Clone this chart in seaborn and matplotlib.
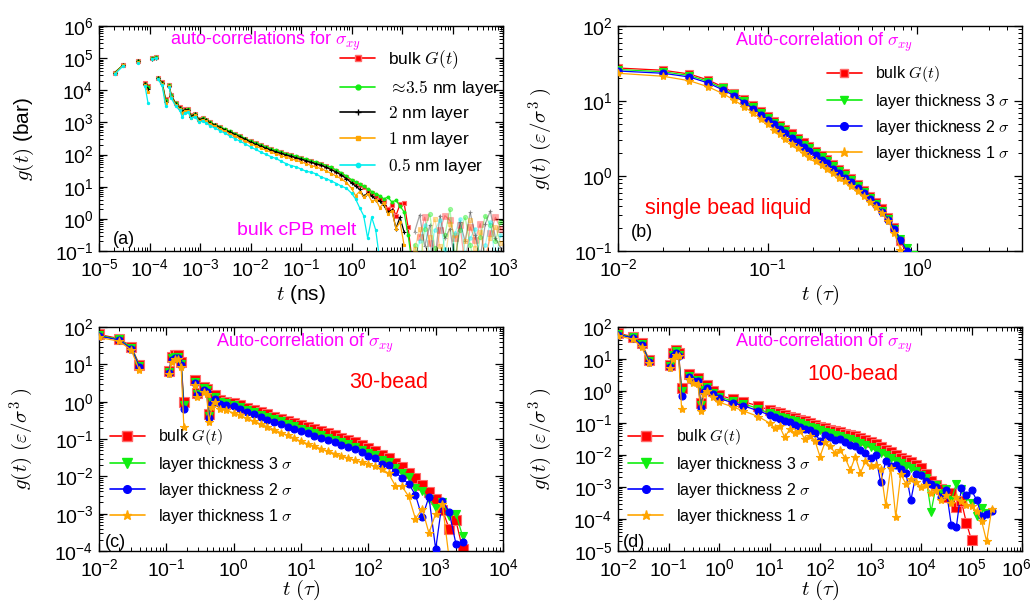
import numpy as np
import pandas as pd
import matplotlib
matplotlib.use("Agg")
import matplotlib.pyplot as plt
from matplotlib.lines import Line2D
from matplotlib.ticker import LogLocator, NullFormatter
from matplotlib.transforms import ScaledTranslation
import seaborn as sns

nan = float("nan")

# ---------------------------------------------------------------------------
# (a) bulk cPB melt, stress auto-correlation; log10 t [ns] and log10 g [bar]
# NaN in the time list separates disconnected pieces of the curves.
# ---------------------------------------------------------------------------
lt_a = [
    -4.69, -4.52, nan, -4.23, nan, -4.09, -4.03, nan, -3.96, -3.88,
    nan, -3.83, -3.75, -3.68, nan, -3.61, -3.57,
    -3.48, -3.40, -3.35, -3.30, -3.23, -3.18, -3.09, -3.02, -2.95, -2.89,
    -2.8, -2.7, -2.6, -2.5, -2.4, -2.3, -2.2, -2.1, -2.0, -1.9,
    -1.8, -1.7, -1.6, -1.5, -1.4, -1.3, -1.2, -1.1, -1.0, -0.9,
    -0.8, -0.7, -0.6, -0.5, -0.4, -0.3, -0.2, -0.1, 0.0, 0.08,
    0.16, 0.24, 0.32, 0.40, 0.48, 0.56, 0.64, 0.72, 0.80, 0.88,
    0.96, 1.04, 1.12, 1.20]
bulk_a = [
    4.55, 4.79, nan, 4.91, nan, 4.22, 4.12, nan, 4.99, 5.03,
    nan, 4.39, 4.25, 3.72, nan, 4.16, 3.86,
    3.59, 3.47, 3.38, 3.41, 3.42, 3.22, 3.27, 3.10, 3.14, 3.09,
    3.00, 2.93, 2.86, 2.78, 2.71, 2.64, 2.57, 2.49, 2.41, 2.35,
    2.29, 2.23, 2.17, 2.12, 2.07, 2.02, 1.98, 1.93, 1.89, 1.84,
    1.79, 1.74, 1.70, 1.64, 1.57, 1.50, 1.40, 1.30, 1.19, 1.12,
    1.04, 0.98, 0.88, 0.80, 0.70, 0.62, 0.55, 0.30, 0.42, 0.10,
    0.45, 0.50, -0.25, -1.30]
layer35_a = [
    4.55, 4.79, nan, 4.91, nan, 4.21, 4.10, nan, 4.99, 5.03,
    nan, 4.38, 4.24, 3.70, nan, 4.15, 3.84,
    3.59, 3.46, 3.36, 3.40, 3.41, 3.20, 3.26, 3.09, 3.13, 3.08,
    3.00, 2.93, 2.86, 2.79, 2.72, 2.65, 2.58, 2.50, 2.42, 2.36,
    2.30, 2.24, 2.18, 2.13, 2.08, 2.03, 1.99, 1.95, 1.90, 1.86,
    1.81, 1.76, 1.72, 1.66, 1.60, 1.52, 1.43, 1.33, 1.22, 1.15,
    1.08, 1.01, 0.93, 0.85, 0.78, 0.72, 0.62, 0.68, 0.52, 0.58,
    0.40, 0.22, -0.50, -1.40]
layer2_a = [
    4.54, 4.78, nan, 4.90, nan, 4.20, 4.05, nan, 4.98, 5.02,
    nan, 4.37, 4.22, 3.65, nan, 4.14, 3.82,
    3.57, 3.45, 3.34, 3.39, 3.40, 3.18, 3.25, 3.07, 3.12, 3.07,
    2.98, 2.91, 2.84, 2.76, 2.69, 2.62, 2.55, 2.47, 2.39, 2.32,
    2.26, 2.20, 2.14, 2.09, 2.04, 1.99, 1.95, 1.90, 1.86, 1.81,
    1.76, 1.71, 1.67, 1.60, 1.53, 1.45, 1.36, 1.25, 1.12, 1.02,
    0.92, 0.70, 0.80, 0.72, 0.60, 0.55, 0.42, 0.20, 0.28, -0.30,
    0.05, -0.40, nan, nan]
layer1_a = [
    4.53, 4.78, nan, 4.89, nan, 4.18, 3.96, nan, 4.98, 5.01,
    nan, 4.36, 4.20, 3.62, nan, 4.13, 3.80,
    3.55, 3.42, 3.30, 3.36, 3.37, 3.14, 3.22, 3.04, 3.09, 3.03,
    2.95, 2.88, 2.80, 2.72, 2.64, 2.57, 2.50, 2.42, 2.34, 2.27,
    2.20, 2.14, 2.08, 2.02, 1.97, 1.92, 1.87, 1.82, 1.77, 1.72,
    1.66, 1.61, 1.56, 1.49, 1.41, 1.33, 1.24, 1.13, 0.95, 0.72,
    0.85, 0.68, 0.78, 0.55, 0.60, 0.35, 0.50, 0.15, 0.25, -0.30,
    -0.10, -0.80, nan, nan]
layer05_a = [
    4.50, 4.76, nan, 4.84, nan, 4.14, 3.61, nan, 4.97, 5.00,
    nan, 4.34, 4.15, 3.51, nan, 4.10, 3.76,
    3.50, 3.38, 3.16, 3.30, 3.32, 3.13, 3.18, 3.00, 3.05, 2.99,
    2.90, 2.82, 2.74, 2.66, 2.57, 2.49, 2.41, 2.33, 2.24, 2.16,
    2.08, 2.01, 1.94, 1.88, 1.80, 1.72, 1.66, 1.62, 1.55, 1.48,
    1.45, 1.40, 1.30, 1.25, 1.18, 1.10, 1.02, 0.95, 0.80, 0.62,
    0.35, 0.10, -0.60, 0.05, -0.35, -1.30, nan, nan, nan, nan,
    nan, nan, nan, nan]

# noisy long-time tail of (a), drawn faded
lt_tail_a = [1.25, 1.35, 1.45, 1.55, 1.65, 1.75, 1.85, 1.95, 2.05, 2.15,
             2.25, 2.35, 2.45, 2.55, 2.65, 2.75, 2.85, 2.95]
tail_bulk_a = [nan, -0.55, 0.05, -0.75, -1.4, -0.35, 0.10, -0.05, -0.60, -0.20,
               -1.5, -0.25, -0.65, -0.15, -1.3, -0.45, 0.05, -0.30]
tail_35_a = [-0.80, -1.5, -0.30, 0.15, -0.90, -1.4, -0.50, 0.30, -1.2, -0.35,
             0.05, -0.80, -1.5, -0.55, 0.10, -0.20, -0.70, -0.10]
tail_2_a = [-0.40, 0.12, -0.85, -0.20, -1.3, 0.10, -0.60, -0.30, -1.4, -0.10,
            -0.70, 0.20, -0.50, -1.2, -0.15, 0.25, -0.60, -0.90]
tail_1_a = [-0.95, -0.30, -1.4, -0.55, 0.00, -0.85, -1.3, -0.15, -0.50, -1.5,
            -0.70, -0.05, -0.90, -0.40, -1.2, -0.60, -0.25, -0.75]
tail_05_a = [-1.3, -0.70, -0.20, -1.2, -0.35, -0.05, -0.95, -1.5, -0.45, 0.00,
             -1.1, -0.60, -0.30, -1.4, -0.80, -0.10, -1.3, -0.50]

# ---------------------------------------------------------------------------
# (b) single bead liquid; t in tau, log10 g in epsilon/sigma^3
# ---------------------------------------------------------------------------
t_b = [0.01, 0.02, 0.03, 0.04, 0.05, 0.06, 0.07, 0.08, 0.09, 0.10,
       0.11, 0.12, 0.13, 0.145, 0.16, 0.175, 0.19, 0.21, 0.23, 0.25,
       0.275, 0.30, 0.33, 0.36, 0.40, 0.44, 0.48, 0.53, 0.58, 0.64,
       0.70, 0.77, 0.85, 0.93]
bulk_b = [1.44, 1.41, 1.36, 1.28, 1.19, 1.11, 1.03, 0.95, 0.87, 0.80,
          0.74, 0.68, 0.63, 0.57, 0.51, 0.45, 0.40, 0.34, 0.28, 0.23,
          0.16, 0.10, 0.04, -0.02, -0.10, -0.18, -0.26, -0.34, -0.43, -0.54,
          -0.68, -0.86, -1.05, nan]
th3_b = [1.42, 1.39, 1.34, 1.26, 1.17, 1.09, 1.00, 0.92, 0.84, 0.77,
         0.71, 0.65, 0.60, 0.54, 0.48, 0.42, 0.37, 0.31, 0.25, 0.20,
         0.13, 0.07, 0.01, -0.05, -0.13, -0.21, -0.29, -0.37, -0.46, -0.57,
         -0.70, -0.84, -0.96, -1.05]
th2_b = [1.40, 1.37, 1.32, 1.24, 1.15, 1.07, 0.98, 0.90, 0.82, 0.75,
         0.69, 0.63, 0.57, 0.51, 0.45, 0.39, 0.34, 0.28, 0.22, 0.17,
         0.10, 0.04, -0.02, -0.08, -0.16, -0.23, -0.31, -0.39, -0.48, -0.58,
         -0.70, -0.85, -1.00, nan]
th1_b = [1.37, 1.33, 1.27, 1.19, 1.10, 1.01, 0.92, 0.84, 0.76, 0.69,
         0.62, 0.56, 0.50, 0.43, 0.37, 0.31, 0.26, 0.20, 0.15, 0.10,
         0.04, -0.02, -0.07, -0.13, -0.20, -0.27, -0.34, -0.41, -0.49, -0.60,
         -0.76, -0.98, -1.15, nan]

# ---------------------------------------------------------------------------
# (c) 30-bead chains; log10 t in tau, log10 g
# ---------------------------------------------------------------------------
lt_c = [-2.0, -1.70, -1.52, -1.40, nan, -0.96, -0.92, -0.87, -0.82, -0.78,
        -0.74, nan, -0.58, -0.54, nan, -0.44, -0.40, -0.37, -0.32, -0.27,
        -0.21, -0.12,
        0.0, 0.1, 0.2, 0.3, 0.4, 0.5, 0.6, 0.7, 0.8, 0.9,
        1.0, 1.1, 1.2, 1.3, 1.4, 1.5, 1.6, 1.7, 1.8, 1.9,
        2.0, 2.1, 2.2, 2.3, 2.4, 2.5, 2.6, 2.7, 2.8, 2.9,
        3.0, 3.1, 3.2, 3.3, 3.4]
bulk_c = [1.80, 1.69, 1.47, 0.99, nan, 0.83, 1.20, 1.24, 1.24, 1.06,
          0.00, nan, 0.57, 0.24, nan, 0.40, 0.35, -0.32, 0.04, 0.17,
          0.04, 0.00,
          -0.04, -0.10, -0.16, -0.22, -0.28, -0.34, -0.40, -0.46, -0.52, -0.57,
          -0.63, -0.68, -0.74, -0.79, -0.85, -0.90, -0.96, -1.02, -1.08, -1.15,
          -1.23, -1.32, -1.42, -1.52, -1.63, -1.76, -1.90, -2.05, -2.22, -2.42,
          -2.62, -2.90, -3.40, -3.18, -3.95]
th3_c = [1.78, 1.67, 1.45, 0.96, nan, 0.80, 1.16, 1.20, 1.20, 1.02,
         -0.08, nan, 0.53, 0.20, nan, 0.36, 0.31, -0.38, 0.00, 0.13,
         0.00, -0.04,
         -0.08, -0.15, -0.22, -0.28, -0.35, -0.41, -0.47, -0.53, -0.59, -0.65,
         -0.72, -0.78, -0.84, -0.90, -0.96, -1.02, -1.08, -1.14, -1.21, -1.29,
         -1.37, -1.44, -1.56, -1.62, -1.78, -1.90, -2.02, -2.30, -2.38, -2.60,
         -2.85, -2.70, -3.05, -3.00, -3.60]
th2_c = [1.76, 1.65, 1.42, 0.93, nan, 0.78, 1.12, 1.17, 1.17, 0.99,
         -0.20, nan, 0.49, 0.17, nan, 0.32, 0.27, -0.45, -0.05, 0.08,
         -0.06, -0.10,
         -0.12, -0.20, -0.27, -0.34, -0.41, -0.48, -0.54, -0.60, -0.67, -0.73,
         -0.79, -0.85, -0.91, -0.97, -1.03, -1.09, -1.15, -1.21, -1.27, -1.36,
         -1.45, -1.52, -1.68, -1.70, -1.88, -2.05, -2.20, -2.50, -3.10, -2.55,
         -3.95, -2.65, -2.95, -3.80, -3.75]
th1_c = [1.72, 1.62, 1.38, 0.84, nan, 0.75, 1.06, 1.14, 1.14, 0.93,
         -0.67, nan, 0.44, 0.13, nan, 0.26, 0.21, -0.54, -0.14, 0.00,
         -0.19, -0.23,
         -0.30, -0.37, -0.45, -0.52, -0.60, -0.67, -0.75, -0.83, -0.90, -0.98,
         -1.06, -1.13, -1.20, -1.26, -1.33, -1.39, -1.45, -1.51, -1.57, -1.62,
         -1.67, -1.73, -1.80, -1.92, -2.25, -2.27, -2.54, -3.14, -2.87, -3.52,
         -3.00, -2.74, -4.20, nan, nan]

# ---------------------------------------------------------------------------
# (d) 100-bead chains; log10 t in tau, log10 g
# ---------------------------------------------------------------------------
lt_d = [-2.0, -1.70, -1.53, -1.38, nan, -0.97, -0.92, -0.86, -0.80, -0.74,
        nan, -0.59, -0.52, -0.42, -0.36, -0.29, -0.24, -0.12, 0.0, 0.28,
        0.48, 0.78,
        1.0, 1.1, 1.2, 1.3, 1.4, 1.5, 1.6, 1.7, 1.8, 1.9,
        2.0, 2.1, 2.2, 2.3, 2.4, 2.5, 2.6, 2.7, 2.8, 2.9,
        3.0, 3.1, 3.2, 3.3, 3.4, 3.5, 3.6, 3.7, 3.8, 3.9,
        4.0, 4.1, 4.2, 4.3, 4.4, 4.5, 4.6, 4.7, 4.8, 4.9,
        5.0, 5.1, 5.2, 5.3, 5.4]
bulk_d = [1.80, 1.70, 1.49, 0.97, nan, 0.81, 1.18, 1.28, 1.18, 0.08,
          nan, 0.53, 0.40, 0.40, -0.38, 0.08, 0.19, 0.00, -0.13, -0.26,
          -0.33, -0.47,
          -0.60, -0.65, -0.70, -0.75, -0.80, -0.85, -0.90, -0.95, -1.01, -1.06,
          -1.12, -1.16, -1.21, -1.25, -1.29, -1.33, -1.38, -1.42, -1.47, -1.52,
          -1.58, -1.66, -1.75, -1.84, -1.92, -2.00, -2.08, -2.15, -2.22, -2.30,
          -2.42, -2.60, -2.80, -2.95, -3.05, -3.30, -3.20, -3.62, -3.45, -4.13,
          -4.66, nan, nan, nan, nan]
th3_d = [1.78, 1.68, 1.46, 0.94, nan, 0.78, 1.14, 1.24, 1.14, 0.00,
         nan, 0.48, 0.35, 0.35, -0.45, 0.03, 0.13, -0.05, -0.18, -0.32,
         -0.40, -0.55,
         -0.70, -0.75, -0.80, -0.85, -0.90, -0.95, -1.01, -1.06, -1.12, -1.17,
         -1.22, -1.27, -1.32, -1.36, -1.41, -1.46, -1.50, -1.55, -1.62, -1.68,
         -1.75, -1.85, -1.93, -2.00, -2.10, -2.18, -2.25, -2.35, -2.42, -2.50,
         -2.62, -2.72, -3.77, -2.95, -3.20, -3.05, -3.40, -2.90, -3.05, -3.30,
         -3.50, -3.90, -3.65, -3.80, nan]
th2_d = [1.76, 1.66, 1.43, 0.91, nan, 0.76, 1.10, 1.20, 1.10, -0.15,
         nan, 0.44, 0.30, 0.30, -0.52, -0.02, 0.08, -0.10, -0.23, -0.37,
         -0.46, -0.62,
         -0.75, -0.82, -0.88, -0.93, -0.98, -1.05, -1.12, -1.18, -1.22, -1.30,
         -1.57, -1.38, -1.45, -1.52, -1.50, -1.60, -1.68, -1.72, -1.85, -1.95,
         -2.10, -2.00, -2.85, -2.20, -2.35, -2.30, -2.45, -2.55, -3.41, -2.60,
         -2.64, -2.80, -2.90, -3.00, -3.30, -3.10, -4.19, -4.25, -3.04, -3.25,
         -3.10, -3.40, -3.90, -3.85, -3.75]
th1_d = [1.72, 1.62, 1.36, 0.86, nan, 0.73, 1.01, 1.11, 1.09, -0.57,
         nan, 0.39, 0.25, 0.22, -0.62, -0.10, 0.00, -0.20, -0.35, -0.50,
         -0.62, -0.80,
         -1.00, -1.15, -1.10, -1.45, -1.20, -1.30, -1.25, -1.50, -1.40, -1.55,
         -2.05, -1.60, -1.72, -1.95, -1.85, -2.10, -2.47, -2.05, -2.56, -2.20,
         -2.35, -2.30, -2.45, -3.56, -2.40, -3.93, -2.60, -2.90, -2.75, -2.85,
         -3.00, -2.95, -3.20, -3.10, -3.40, -3.25, -3.50, -3.30, -3.45, -3.55,
         -3.60, -3.75, -4.06, -4.70, -3.70]

# ---------------------------------------------------------------------------
RED, GREEN, BLUE, ORANGE = "#ff0000", "#11ee11", "#0000ff", "#ffa500"
CYAN, MAGENTA = "#00eeee", "#ff00ff"
TICK_SIZE, LABEL_SIZE = 14, 15

sns.set_style("ticks")
plt.rcParams.update({
    "font.family": ["Liberation Sans", "DejaVu Sans"],
    "mathtext.fontset": "cm",
    "axes.edgecolor": "black",
    "axes.labelcolor": "black",
    "text.color": "black",
    "xtick.color": "black",
    "ytick.color": "black",
})


def to_frame(logt, logg):
    """Rows of (t, g, piece); a NaN in either list starts a new piece."""
    rows, piece = [], 0
    for x, y in zip(logt, logg):
        if np.isnan(x) or np.isnan(y):
            piece += 1
            continue
        rows.append((10.0 ** x, 10.0 ** y, piece))
    return pd.DataFrame(rows, columns=["t", "g", "piece"])


def draw(ax, logt, logg, color, marker, ms, mec=None, lw=0.9, alpha=1.0, z=2):
    df = to_frame(logt, logg)
    sns.lineplot(data=df, x="t", y="g", units="piece", estimator=None, sort=False,
                 color=color, marker=marker, markersize=ms,
                 markeredgecolor=mec if mec else color, markeredgewidth=0.8,
                 linewidth=lw, alpha=alpha, zorder=z, legend=False, ax=ax)


def style(ax, xlim, ylim):
    ax.set_xscale("log")
    ax.set_yscale("log")
    ax.set_xlim(*xlim)
    ax.set_ylim(*ylim)
    for axis in (ax.xaxis, ax.yaxis):
        axis.set_major_locator(LogLocator(base=10, numticks=40))
        axis.set_minor_locator(LogLocator(base=10, subs=np.arange(2, 10), numticks=40))
        axis.set_minor_formatter(NullFormatter())
    ax.tick_params(which="both", direction="in", top=True, right=True)
    ax.tick_params(which="major", length=6, width=0.9, labelsize=TICK_SIZE)
    ax.tick_params(axis="x", which="major", pad=5)
    ax.tick_params(axis="y", which="major", pad=4)
    ax.tick_params(which="minor", length=3, width=0.7)
    for s in ax.spines.values():
        s.set_linewidth(1.0)
        s.set_color("black")


W, H = 1035, 602
fig = plt.figure(figsize=(W / 100, H / 100), dpi=100)


def new_axes(left, top, right, bottom):
    return fig.add_axes([left / W, 1 - bottom / H, (right - left) / W, (bottom - top) / H])


ax_a = new_axes(99, 26, 503, 251)
ax_b = new_axes(618, 26, 1022, 251)
ax_c = new_axes(99, 327, 503, 551)
ax_d = new_axes(618, 327, 1022, 551)
for ax in (ax_a, ax_b, ax_c, ax_d):
    ax.set_xscale("log")
    ax.set_yscale("log")

# ---- (a)
series_a = [
    (bulk_a, tail_bulk_a, RED, "s", 3.5, "#ff6a6a", r"bulk $G(t)$"),
    (layer35_a, tail_35_a, GREEN, "o", 2.0, None, r"$\approx\!3.5$ nm layer"),
    (layer2_a, tail_2_a, "black", "+", 2.5, None, r"$2$ nm layer"),
    (layer1_a, tail_1_a, ORANGE, "s", 2.0, None, r"$1$ nm layer"),
    (layer05_a, tail_05_a, CYAN, "o", 1.6, None, r"$0.5$ nm layer"),
]
for k, (vals, tail, col, mk, ms, mec, _) in enumerate(series_a):
    draw(ax_a, lt_a, vals, col, mk, ms, mec, lw=0.9, z=2 + k)
    draw(ax_a, lt_tail_a, tail, col, mk, ms + 1.0, mec, lw=0.9, alpha=0.35, z=2 + k)
style(ax_a, (1e-5, 1e3), (1e-1, 1e6))
ax_a.set_xlabel(r"$t$ (ns)", fontsize=LABEL_SIZE)
ax_a.set_ylabel(r"$g(t)$ (bar)", fontsize=LABEL_SIZE)
hand_a = [Line2D([], [], color=c, marker=m, markersize=s + 1.5, lw=1.2,
                 markeredgecolor=(e if e else c)) for _, _, c, m, s, e, _ in series_a]
ax_a.legend(hand_a, [s[-1] for s in series_a], loc="upper left",
            bbox_to_anchor=(0.597, 0.9), frameon=False, borderpad=0,
            borderaxespad=0, handlelength=2.0, handletextpad=0.75,
            labelspacing=0.38, fontsize=12.5)
ax_a.text(0.176, 0.933, r"auto-correlations for $\sigma_{xy}$", color=MAGENTA,
          fontsize=13, transform=ax_a.transAxes, va="center", ha="left")
ax_a.text(0.342, 0.089, "bulk cPB melt", color=MAGENTA, fontsize=14,
          transform=ax_a.transAxes, va="center", ha="left")
ax_a.text(0.035, 0.049, "(a)", fontsize=13, transform=ax_a.transAxes,
          va="center", ha="left")

# ---- shared legend style for the bead-spring panels
labels_bd = [r"bulk $G(t)$", r"layer thickness 3 $\sigma$",
             r"layer thickness 2 $\sigma$", r"layer thickness 1 $\sigma$"]


def bead_panel(ax, logt, series, ms_list, xlim, ylim, tag, tag_xy, name, name_xy,
               name_size, leg_xy):
    cols = [RED, GREEN, BLUE, ORANGE]
    mks = ["s", "v", "o", "*"]
    mecs = ["#ff6a6a", None, None, None]
    for k, vals in enumerate(series):
        draw(ax, logt, vals, cols[k], mks[k], ms_list[k], mecs[k], lw=0.9, z=2 + k)
    style(ax, xlim, ylim)
    ax.set_xlabel(r"$t$ $(\tau)$", fontsize=LABEL_SIZE)
    ax.set_ylabel(r"$g(t)$ $(\varepsilon/\sigma^3\;)$", fontsize=LABEL_SIZE)
    hands = [Line2D([], [], color=cols[k], marker=mks[k], markersize=ms_list[k] + 0.5,
                    lw=1.2, markeredgecolor=(mecs[k] if mecs[k] else cols[k]))
             for k in range(4)]
    ax.legend(hands, labels_bd, loc="upper left", bbox_to_anchor=leg_xy,
              frameon=False, borderpad=0, borderaxespad=0, handlelength=2.2,
              handletextpad=0.8, labelspacing=0.45, fontsize=11.5)
    ax.text(0.29, 0.928, r"Auto-correlation of $\sigma_{xy}$", color=MAGENTA,
            fontsize=13, transform=ax.transAxes, va="center", ha="left")
    ax.text(name_xy[0], name_xy[1], name, color=RED, fontsize=name_size,
            transform=ax.transAxes, va="center", ha="left")
    ax.text(tag_xy[0], tag_xy[1], tag, fontsize=13, transform=ax.transAxes,
            va="center", ha="left")


lt_b = list(np.log10(t_b))
bead_panel(ax_b, lt_b, [bulk_b, th3_b, th2_b, th1_b], [5.5, 5.5, 5.0, 6.0],
           (1e-2, 5.0), (1e-1, 1e2), "(b)", (0.032, 0.084),
           "single bead liquid", (0.067, 0.191), 15.5, (0.517, 0.829))
bead_panel(ax_c, lt_c, [bulk_c, th3_c, th2_c, th1_c], [6.5, 6.0, 5.0, 6.0],
           (1e-2, 1e4), (1e-4, 1e2), "(c)", (0.015, 0.036),
           "30-bead", (0.619, 0.75), 15.5, (0.027, 0.552))
bead_panel(ax_d, lt_d, [bulk_d, th3_d, th2_d, th1_d], [6.5, 6.0, 5.0, 6.0],
           (1e-2, 1e6), (1e-5, 1e2), "(d)", (0.012, 0.036),
           "100-bead", (0.468, 0.79), 15.5, (0.025, 0.552))

for ax in (ax_a, ax_b, ax_c, ax_d):
    ax.yaxis.set_label_coords(-0.155, 0.5)
ax_a.xaxis.set_label_coords(0.5, -0.14)
ax_b.xaxis.set_label_coords(0.5, -0.14)
ax_c.xaxis.set_label_coords(0.5, -0.12)
ax_d.xaxis.set_label_coords(0.5, -0.12)

# keep the last x tick label of (d) inside the figure edge
fig.canvas.draw()
for tick in ax_d.xaxis.get_major_ticks():
    if np.isclose(tick.get_loc(), 1e6):
        lab = tick.label1
        lab.set_transform(lab.get_transform()
                          + ScaledTranslation(-0.06, 0, fig.dpi_scale_trans))

fig.savefig("out.png", dpi=100)
